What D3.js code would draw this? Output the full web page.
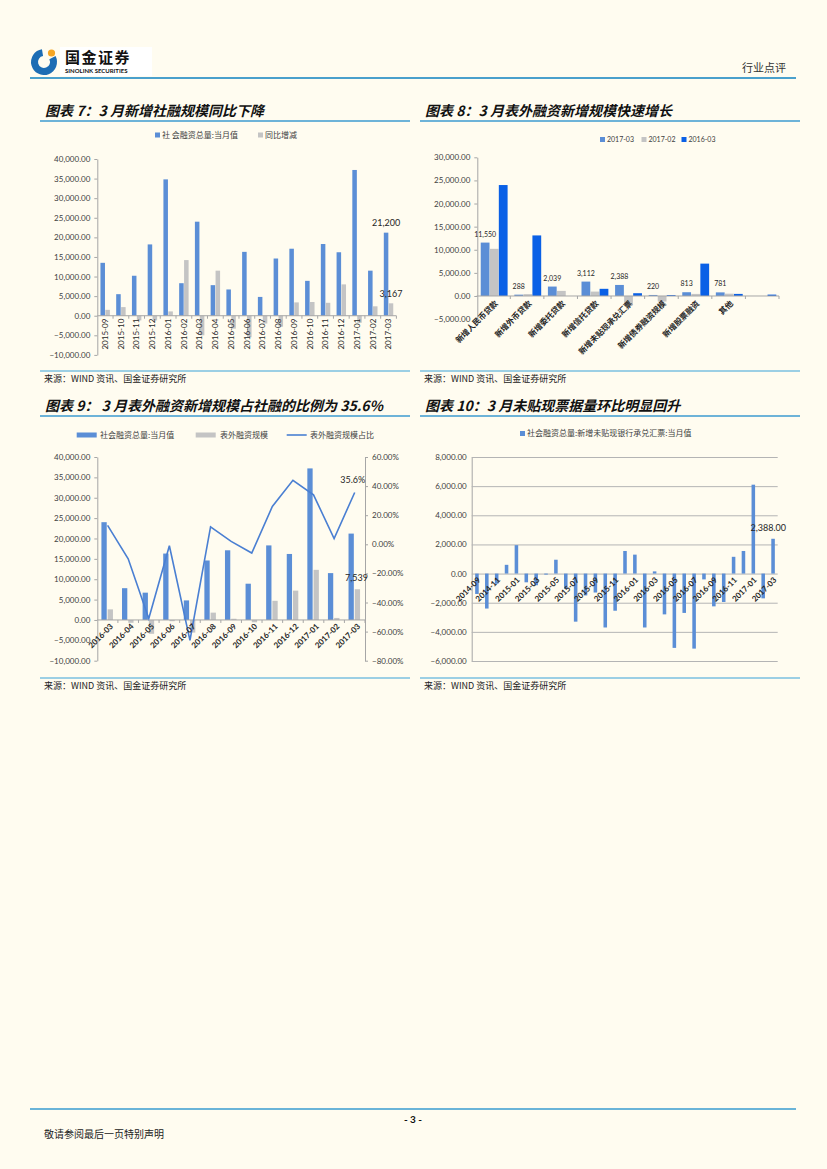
<!DOCTYPE html>
<meta charset="utf-8">
<style>
body { margin: 0; background: #fffcf0; }
svg { display: block; font-family: Lato, "Noto Sans CJK SC", sans-serif; }
.ttl { font-family: "Noto Sans CJK SC"; font-weight: bold; font-style: italic; font-size: 14px; fill: #111; }
.src { font-family: "Noto Sans CJK SC"; font-size: 9px; fill: #222; }
.lg { font-family: "Noto Sans CJK SC"; font-size: 8px; fill: #404040; }
.xl { font-size: 8px; fill: #262626; font-weight: bold; }
.dl { font-size: 9px; fill: #262626; }
</style>
<svg id="page" width="827" height="1169"></svg>
<script src="https://cdn.jsdelivr.net/npm/d3@7"></script>
<script>
// ---- data ----
var months7 = ["2015-09","2015-10","2015-11","2015-12","2016-01","2016-02","2016-03","2016-04","2016-05","2016-06",
  "2016-07","2016-08","2016-09","2016-10","2016-11","2016-12","2017-01","2017-02","2017-03"];
var tsf7 = [13500, 5500, 10200, 18200, 34800, 8300, 24000, 7800, 6700, 16300, 4800, 14600, 17100, 8900, 18300, 16200, 37200, 11500, 21200];
var yoy7 = [1500, 2200, -1200, -1200, 1100, 14200, -5000, 11500, -3300, -5500, -2000, -2800, 3400, 3500, 3300, 8000, -1800, 2400, 3167];
var ticks7 = [-10000, -5000, 0, 5000, 10000, 15000, 20000, 25000, 30000, 35000, 40000];

var cats8 = ["新增人民币贷款","新增外币贷款","新增委托贷款","新增信托贷款","新增未贴现承兑汇票","新增债券融资规模","新增股票融资","其他",""];
var series8 = ["2017-03","2017-02","2016-03"];
var v201703 = [11550, 288, 2039, 3112, 2388, 220, 813, 781, 0];
var v201702 = [10200, 400, 1100, 950, -1800, -1200, 450, 500, 0];
var v201603 = [24000, 13100, 0, 1550, 600, 200, 7000, 450, 300];
var ticks8 = [-5000, 0, 5000, 10000, 15000, 20000, 25000, 30000];

var months9 = ["2016-03","2016-04","2016-05","2016-06","2016-07","2016-08","2016-09","2016-10","2016-11","2016-12","2017-01","2017-02","2017-03"];
var tsf9 = [24000, 7800, 6700, 16300, 4800, 14600, 17100, 8900, 18300, 16200, 37200, 11500, 21200];
var offbs9 = [2600, -700, -3400, -300, -3100, 1800, 300, -570, 4700, 7200, 12300, 500, 7539];
var ratio9 = [0.13, -0.10, -0.51, -0.01, -0.66, 0.12, 0.02, -0.06, 0.26, 0.44, 0.34, 0.04, 0.356];
var ticks9L = [-10000, -5000, 0, 5000, 10000, 15000, 20000, 25000, 30000, 35000, 40000];
var ticks9R = [-0.8, -0.6, -0.4, -0.2, 0, 0.2, 0.4, 0.6];

var months10 = ["2014-09","2014-10","2014-11","2014-12","2015-01","2015-02","2015-03","2015-04","2015-05","2015-06",
  "2015-07","2015-08","2015-09","2015-10","2015-11","2015-12","2016-01","2016-02","2016-03","2016-04","2016-05",
  "2016-06","2016-07","2016-08","2016-09","2016-10","2016-11","2016-12","2017-01","2017-02","2017-03"];
var bills10 = [-1400, -2400, -700, 600, 1950, -600, -800, -70, 950, -1050, -3300, -1500, -1300, -3700, -2550,
  1550, 1300, -3700, 150, -2800, -5100, -2700, -5150, -400, -2250, -1950, 1150, 1550, 6100, -1700, 2388];
var ticks10 = [-6000, -4000, -2000, 0, 2000, 4000, 6000, 8000];

var BLUE = "#5b8ed6", GRAY = "#c4c4c4", DEEP = "#0a60e6", AXIS = "#a6a6a6";
var fmt2 = d3.format(",.2f");

var page = d3.select("#page");
page.append("rect").attr("width", 827).attr("height", 1169).attr("fill", "#fffcf0");

// ---- header / footer ----
page.append("rect").attr("x", 60).attr("y", 47).attr("width", 92).attr("height", 29).attr("fill", "#fff");
page.append("path")
  .attr("transform", "translate(44,62)")
  .attr("d", d3.arc()({innerRadius: 6, outerRadius: 13, startAngle: 0.35 * Math.PI, endAngle: 1.95 * Math.PI}))
  .attr("fill", "#1d6db4");
page.append("circle").attr("cx", 51.5).attr("cy", 53).attr("r", 3.6).attr("fill", "#f5a623");
page.append("text").attr("x", 65).attr("y", 63).style("font-family", "Noto Sans CJK SC").style("font-weight", "bold")
  .style("font-size", "15px").style("letter-spacing", "1.5px").attr("fill", "#111").text("国金证券");
page.append("text").attr("x", 65).attr("y", 73).style("font-weight", "bold").style("font-size", "6px")
  .attr("fill", "#111").text("SINOLINK SECURITIES");
page.append("text").attr("x", 786).attr("y", 72).attr("text-anchor", "end").style("font-family", "Noto Sans CJK SC")
  .style("font-size", "11px").attr("fill", "#333").text("行业点评");
page.append("line").attr("x1", 30).attr("x2", 796).attr("y1", 78).attr("y2", 78).attr("stroke", "#4aa0cc").attr("stroke-width", 2);

page.append("line").attr("x1", 30).attr("x2", 796).attr("y1", 1109).attr("y2", 1109).attr("stroke", "#6ab4d8").attr("stroke-width", 2);
page.append("text").attr("x", 413).attr("y", 1123).attr("text-anchor", "middle").style("font-weight", "bold")
  .style("font-size", "10px").attr("fill", "#111").text("- 3 -");
page.append("text").attr("x", 44).attr("y", 1138).style("font-family", "Noto Sans CJK SC").style("font-size", "10px")
  .attr("fill", "#222").text("敬请参阅最后一页特别声明");

function frame(x0, x1, tY, title, sY) {
  page.append("text").attr("class", "ttl").attr("x", x0 + 5).attr("y", tY).text(title);
  page.append("line").attr("x1", x0).attr("x2", x1).attr("y1", tY + 5).attr("y2", tY + 5)
    .attr("stroke", "#3d9bd0").attr("stroke-width", 1.3);
  page.append("line").attr("x1", x0).attr("x2", x1).attr("y1", sY - 11).attr("y2", sY - 11)
    .attr("stroke", "#9ccfe4").attr("stroke-width", 2);
  page.append("text").attr("class", "src").attr("x", x0 + 4).attr("y", sY).text("来源：WIND 资讯、国金证券研究所");
}

function styleAxis(a) {
  a.attr("font-family", "Lato, 'Noto Sans CJK SC', sans-serif").attr("font-size", 8);
  a.select(".domain").attr("stroke", AXIS);
  a.selectAll(".tick line").attr("stroke", AXIS);
  a.selectAll(".tick text").attr("fill", "#404040");
  return a;
}

function catTicks(g, x, y0) {
  var r = x.range();
  g.append("line").attr("x1", r[0]).attr("x2", r[1]).attr("y1", y0).attr("y2", y0).attr("stroke", AXIS);
  g.selectAll(null).data(x.domain()).enter().append("line")
    .attr("x1", function(d) { return x(d) + x.step(); }).attr("x2", function(d) { return x(d) + x.step(); })
    .attr("y1", y0).attr("y2", y0 + 3).attr("stroke", AXIS);
}

function legendBox(x, y, color, label, cls) {
  page.append("rect").attr("x", x).attr("y", y - 4.5).attr("width", 5).attr("height", 5).attr("fill", color);
  page.append("text").attr("class", cls || "lg").attr("x", x + 7).attr("y", y + 0.5).text(label);
}

// ---- chart 7 ----
frame(40, 410, 116, "图表 7：3 月新增社融规模同比下降", 382);
(function() {
  var g = page.append("g");
  var x = d3.scaleBand().domain(months7).range([97.3, 396.4]);
  var y = d3.scaleLinear().domain([-10000, 40000]).range([354.9, 159]);
  var bw = x.bandwidth();
  var x1 = d3.scaleBand().domain([0, 1]).range([bw * 0.2, bw * 0.8]).paddingInner(0.08);

  styleAxis(g.append("g").attr("transform", "translate(97.3,0)")
    .call(d3.axisLeft(y).tickValues(ticks7).tickFormat(fmt2).tickSizeInner(3).tickSizeOuter(0).tickPadding(4)));

  [tsf7, yoy7].forEach(function(vals, k) {
    g.selectAll(null).data(vals).enter().append("rect")
      .attr("x", function(d, i) { return x(months7[i]) + x1(k); })
      .attr("width", x1.bandwidth())
      .attr("y", function(d) { return y(Math.max(0, d)); })
      .attr("height", function(d) { return Math.abs(y(d) - y(0)); })
      .attr("fill", k ? GRAY : BLUE);
  });
  catTicks(g, x, y(0));
  g.selectAll(null).data(months7).enter().append("text").attr("class", "xl")
    .attr("transform", function(d) { return "translate(" + (x(d) + bw / 2) + "," + (y(0) + 3) + ") rotate(-90)"; })
    .attr("text-anchor", "end").attr("dy", "0.35em").style("font-weight", "normal").text(function(d) { return d; });

  var last = months7.length - 1;
  g.append("text").attr("class", "dl").attr("text-anchor", "middle")
    .attr("x", x(months7[last]) + x1(0) + x1.bandwidth() / 2).attr("y", y(tsf7[last]) - 7)
    .text(d3.format(",")(tsf7[last]));
  g.append("text").attr("class", "dl").attr("text-anchor", "middle")
    .attr("x", x(months7[last]) + x1(1) + x1.bandwidth() / 2).attr("y", y(yoy7[last]) - 6)
    .text(d3.format(",")(yoy7[last]));

  legendBox(155, 137, BLUE, "社 会融资总量:当月值");
  legendBox(258, 137, GRAY, "同比增减");
})();

// ---- chart 8 ----
frame(420, 800, 116, "图表 8：3 月表外融资新增规模快速增长", 382);
(function() {
  var g = page.append("g");
  var x = d3.scaleBand().domain(cats8).range([476.7, 779]);
  var y = d3.scaleLinear().domain([-5000, 30000]).range([319.1, 157.3]);
  var bw = x.bandwidth();
  var x1 = d3.scaleBand().domain(series8).range([bw * 0.12, bw * 0.92]).paddingInner(0.03);
  var cols = [BLUE, GRAY, DEEP];

  styleAxis(g.append("g").attr("transform", "translate(477.3,0)")
    .call(d3.axisLeft(y).tickValues(ticks8).tickFormat(fmt2).tickSizeInner(3).tickSizeOuter(0).tickPadding(4)));

  [v201703, v201702, v201603].forEach(function(vals, k) {
    g.selectAll(null).data(vals).enter().append("rect")
      .attr("x", function(d, i) { return x(cats8[i]) + x1(series8[k]); })
      .attr("width", x1.bandwidth())
      .attr("y", function(d) { return y(Math.max(0, d)); })
      .attr("height", function(d) { return Math.abs(y(d) - y(0)); })
      .attr("fill", cols[k]);
  });
  catTicks(g, x, y(0));

  g.selectAll(null).data(v201703).enter().filter(function(d) { return d !== 0; }).append("text")
    .style("font-size", "7px").attr("fill", "#262626").attr("text-anchor", "middle")
    .attr("x", function(d, i) { return x(cats8[i]) + x1(series8[0]) + x1.bandwidth() / 2; })
    .attr("y", function(d) { return y(d) - 6; })
    .text(function(d) { return d3.format(",")(d); });

  g.selectAll(null).data(cats8).enter().append("text")
    .style("font-family", "Noto Sans CJK SC").style("font-size", "8px").style("font-weight", "bold").attr("fill", "#262626")
    .attr("transform", function(d) { return "translate(" + (x(d) + bw / 2 + 3) + "," + (y(0) + 6) + ") rotate(-45)"; })
    .attr("text-anchor", "end").attr("dy", "0.35em").text(function(d) { return d; });

  series8.forEach(function(s, k) {
    legendBox([600, 641.5, 681.5][k], 141.5, cols[k], s, "lg");
  });
  page.selectAll(".lg").filter(function() { return /^20/.test(this.textContent); }).style("font-size", "7px")
    .style("font-family", "Lato");
})();

// ---- chart 9 ----
frame(40, 410, 411, "图表 9： 3 月表外融资新增规模占社融的比例为 35.6%", 689);
(function() {
  var g = page.append("g");
  var x = d3.scaleBand().domain(months9).range([97.3, 365]);
  var y = d3.scaleLinear().domain([-10000, 40000]).range([660.7, 457]);
  var yr = d3.scaleLinear().domain([-0.8, 0.6]).range([660.7, 457]);
  var bw = x.bandwidth();
  var x1 = d3.scaleBand().domain([0, 1]).range([bw * 0.2, bw * 0.76]).paddingInner(0.15);

  styleAxis(g.append("g").attr("transform", "translate(97.3,0)")
    .call(d3.axisLeft(y).tickValues(ticks9L).tickFormat(fmt2).tickSizeInner(3).tickSizeOuter(0).tickPadding(4)));
  styleAxis(g.append("g").attr("transform", "translate(365,0)")
    .call(d3.axisRight(yr).tickValues(ticks9R).tickFormat(d3.format(".2%")).tickSizeInner(3).tickSizeOuter(0).tickPadding(4)));

  [tsf9, offbs9].forEach(function(vals, k) {
    g.selectAll(null).data(vals).enter().append("rect")
      .attr("x", function(d, i) { return x(months9[i]) + x1(k); })
      .attr("width", x1.bandwidth())
      .attr("y", function(d) { return y(Math.max(0, d)); })
      .attr("height", function(d) { return Math.abs(y(d) - y(0)); })
      .attr("fill", k ? GRAY : BLUE);
  });
  catTicks(g, x, y(0));

  g.append("path").datum(ratio9)
    .attr("d", d3.line().x(function(d, i) { return x(months9[i]) + bw / 2; }).y(function(d) { return yr(d); }))
    .attr("fill", "none").attr("stroke", "#4a7fd2").attr("stroke-width", 1.6);

  g.selectAll(null).data(months9).enter().append("text").attr("class", "xl")
    .attr("transform", function(d) { return "translate(" + (x(d) + bw / 2 + 4) + "," + (y(0) + 5) + ") rotate(-45)"; })
    .attr("text-anchor", "end").attr("dy", "0.35em").text(function(d) { return d; });

  var last = months9.length - 1;
  g.append("text").attr("class", "dl").attr("text-anchor", "middle")
    .attr("x", x(months9[last]) + bw / 2 - 2).attr("y", yr(ratio9[last]) - 10)
    .text(d3.format(".1%")(ratio9[last]));
  g.append("text").attr("class", "dl").attr("text-anchor", "middle")
    .attr("x", x(months9[last]) + x1(1) + x1.bandwidth() / 2 - 1).attr("y", y(offbs9[last]) - 8)
    .text(d3.format(",")(offbs9[last]));

  page.append("rect").attr("x", 76.7).attr("y", 432.5).attr("width", 20).attr("height", 5).attr("fill", BLUE);
  page.append("text").attr("class", "lg").attr("x", 100).attr("y", 438).text("社会融资总量:当月值");
  page.append("rect").attr("x", 195.7).attr("y", 432.5).attr("width", 20).attr("height", 5).attr("fill", GRAY);
  page.append("text").attr("class", "lg").attr("x", 220).attr("y", 438).text("表外融资规模");
  page.append("line").attr("x1", 286.7).attr("x2", 306.7).attr("y1", 435).attr("y2", 435).attr("stroke", "#4a7fd2").attr("stroke-width", 1.6);
  page.append("text").attr("class", "lg").attr("x", 310).attr("y", 438).text("表外融资规模占比");
})();

// ---- chart 10 ----
frame(420, 800, 411, "图表 10：3 月未贴现票据量环比明显回升", 689);
(function() {
  var g = page.append("g");
  var x = d3.scaleBand().domain(months10).range([472, 778]).paddingInner(0.64).paddingOuter(0.32);
  var y = d3.scaleLinear().domain([-6000, 8000]).range([661, 457]);

  var ax = styleAxis(g.append("g").attr("transform", "translate(471.7,0)")
    .call(d3.axisLeft(y).tickValues(ticks10).tickFormat(fmt2).tickSizeInner(-306).tickSizeOuter(0).tickPadding(5)));
  ax.selectAll(".tick line").attr("stroke", "#b4b4b4");

  g.selectAll(null).data(bills10).enter().append("rect")
    .attr("x", function(d, i) { return x(months10[i]); })
    .attr("width", x.bandwidth())
    .attr("y", function(d) { return y(Math.max(0, d)); })
    .attr("height", function(d) { return Math.abs(y(d) - y(0)); })
    .attr("fill", BLUE);

  g.selectAll(null).data(months10).enter().filter(function(d, i) { return i % 2 === 0; }).append("text").attr("class", "xl")
    .attr("transform", function(d) { return "translate(" + (x(d) + x.bandwidth() / 2 + 2) + "," + (y(0) + 5) + ") rotate(-45)"; })
    .attr("text-anchor", "end").attr("dy", "0.35em").text(function(d) { return d; });

  var last = months10.length - 1;
  g.append("text").attr("class", "dl").attr("text-anchor", "middle")
    .attr("x", x(months10[last]) - 3).attr("y", y(bills10[last]) - 8)
    .text(fmt2(bills10[last]));

  legendBox(520, 435.5, BLUE, "社会融资总量:新增未贴现银行承兑汇票:当月值");
})();
</script>
